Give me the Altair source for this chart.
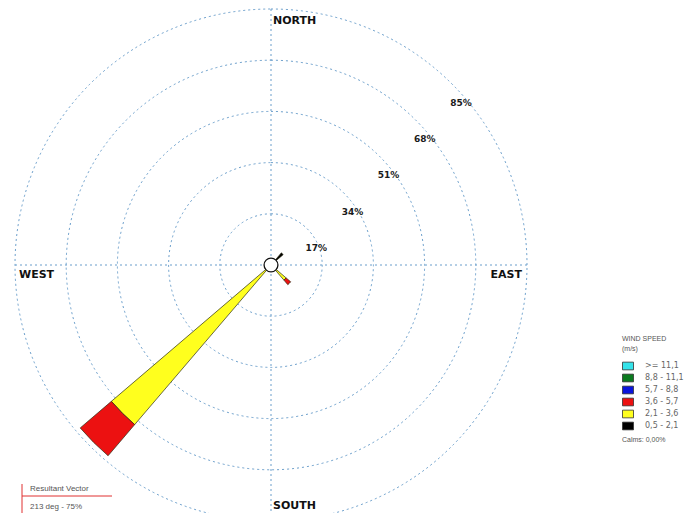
import math
import altair as alt
import pandas as pd

# ---------------- data ----------------
RINGS = [17, 34, 51, 68, 85]
RING_LABELS = ["17%", "34%", "51%", "68%", "85%"]

CLASSES = [">= 11,1", "8,8 - 11,1", "5,7 - 8,8", "3,6 - 5,7", "2,1 - 3,6", "0,5 - 2,1"]
COLORS = ["#35e3ea", "#0b7a1f", "#0a14dc", "#ec1111", "#ffff1e", "#000000"]

# petals: bearing (deg) and frequency (%) per speed class (inner -> outer)
DIRECTIONS = [45, 135, 225]
FREQ_05_21 = [5.3, 0.0, 0.0]
FREQ_21_36 = [0.0, 6.6, 69.7]
FREQ_36_57 = [0.0, 2.0, 13.6]

COMPASS = ["NORTH", "EAST", "SOUTH", "WEST"]
COMPASS_BEARING = [0, 90, 180, 270]

CALMS_TEXT = "Calms: 0,00%"
RESULTANT_TITLE = "Resultant Vector"
RESULTANT_TEXT = "213 deg - 75%"

# ---------------- layout ----------------
W, H = 689, 513
CX, CY = 271, 265          # pixel centre of the rose
RMAX_PX = 256               # pixel radius of outermost ring
RMAX = max(RINGS)
K = RMAX_PX / RMAX          # px per percent
HALF_W = 4.5                # half petal width (deg)
CALM_R = 2.3                # calm circle radius (%)

xs = alt.Scale(domain=[-CX / K, (W - CX) / K], zero=False, nice=False)
ys = alt.Scale(domain=[(CY - H) / K, CY / K], zero=False, nice=False)
ts = alt.Scale(domain=[0, 360], range=[0, 2 * math.pi])
rs = alt.Scale(type="linear", domain=[0, RMAX], range=[0, RMAX_PX], zero=True)

X0 = alt.X(datum=0, scale=xs, axis=None)
Y0 = alt.Y(datum=0, scale=ys, axis=None)

GRID = "#6a9ecb"

# rings
rings_df = pd.DataFrame({"ring": RINGS, "t0": 0, "t1": 360, "r0": 0})
rings = alt.Chart(rings_df).mark_arc(
    filled=False, stroke=GRID, strokeWidth=1, strokeDash=[2, 3]
).encode(
    x=X0, y=Y0,
    theta=alt.Theta("t0:Q", scale=ts, stack=None), theta2="t1:Q",
    radius=alt.Radius("ring:Q", scale=rs), radius2="r0:Q",
)

# cross lines
cross_df = pd.DataFrame({
    "x1": [-RMAX, 0], "x2": [RMAX, 0], "y1": [0, -RMAX], "y2": [0, RMAX]
})
cross = alt.Chart(cross_df).mark_rule(
    stroke=GRID, strokeWidth=1, strokeDash=[2, 3]
).encode(
    x=alt.X("x1:Q", scale=xs, axis=None), x2="x2:Q",
    y=alt.Y("y1:Q", scale=ys, axis=None), y2="y2:Q",
)

# petals
rows = []
stack_classes = [("0,5 - 2,1", FREQ_05_21), ("2,1 - 3,6", FREQ_21_36), ("3,6 - 5,7", FREQ_36_57)]
for i, d in enumerate(DIRECTIONS):
    cum = 0.0
    for cls, vals in stack_classes:
        v = vals[i]
        if v > 0:
            rows.append({"dir": d, "t0": d - HALF_W, "t1": d + HALF_W,
                         "r0": cum, "r1": cum + v, "cls": cls})
            cum += v
petal_df = pd.DataFrame(rows)
petals = alt.Chart(petal_df).mark_arc(stroke="#2b2b12", strokeWidth=0.7).encode(
    x=X0, y=Y0,
    theta=alt.Theta("t0:Q", scale=ts, stack=None), theta2="t1:Q",
    radius=alt.Radius("r1:Q", scale=rs), radius2="r0:Q",
    color=alt.Color(
        "cls:N",
        scale=alt.Scale(domain=CLASSES, range=COLORS),
        legend=alt.Legend(
            title=["WIND SPEED", "(m/s)"],
            orient="none", legendX=622, legendY=335,
            titleFont="Liberation Sans", titleFontSize=7, titleFontWeight="normal",
            titleColor="#555", titlePadding=8, titleLineHeight=10,
            labelFont="DejaVu Sans", labelFontSize=8, labelColor="#666",
            labelOffset=11, labelLimit=200,
            symbolType="M-1,-0.7H1V0.7H-1Z", symbolSize=121,
            symbolStrokeColor="#333", symbolStrokeWidth=0.8,
            rowPadding=0, padding=0,
        ),
    ),
)

# calm circle
calm_df = pd.DataFrame({"r": [CALM_R], "t0": [0], "t1": [360]})
calm = alt.Chart(calm_df).mark_arc(fill="white", stroke="#111", strokeWidth=1.3).encode(
    x=X0, y=Y0,
    theta=alt.Theta("t0:Q", scale=ts, stack=None), theta2="t1:Q",
    radius=alt.Radius("r:Q", scale=rs),
)

# ring labels (along 45 degrees)
rl_df = pd.DataFrame({
    "lab": RING_LABELS,
    "x": [r * math.sin(math.radians(45)) for r in RINGS],
    "y": [r * math.cos(math.radians(45)) for r in RINGS],
})
ring_labels = alt.Chart(rl_df).mark_text(
    font="DejaVu Sans", fontWeight="bold", fontSize=9, color="#1a1a1a",
    align="center", baseline="middle", dx=9, dy=19,
).encode(
    x=alt.X("x:Q", scale=xs, axis=None), y=alt.Y("y:Q", scale=ys, axis=None), text="lab:N"
)

# compass labels
comp_df = pd.DataFrame({
    "lab": COMPASS,
    "x": [RMAX * math.sin(math.radians(b)) for b in COMPASS_BEARING],
    "y": [RMAX * math.cos(math.radians(b)) for b in COMPASS_BEARING],
})
def comp_layer(name, align, dx, dy):
    return alt.Chart(comp_df[comp_df.lab == name]).mark_text(
        font="DejaVu Sans", fontWeight="bold", fontSize=11, color="#111",
        align=align, baseline="middle", dx=dx, dy=dy,
    ).encode(
        x=alt.X("x:Q", scale=xs, axis=None), y=alt.Y("y:Q", scale=ys, axis=None), text="lab:N"
    )

north = comp_layer("NORTH", "left", 2, 12)
south = comp_layer("SOUTH", "left", 2, -15)
west = comp_layer("WEST", "left", 4, 10)
east = comp_layer("EAST", "right", -5, 10)

# annotations
ann_df = pd.DataFrame({"t": [CALMS_TEXT]})
calms = alt.Chart(ann_df).mark_text(
    font="Liberation Sans", fontSize=7, color="#555", align="left", baseline="middle"
).encode(x=alt.value(622), y=alt.value(440), text="t:N")

res_df = pd.DataFrame({"t": [RESULTANT_TITLE, RESULTANT_TEXT]})
res_t1 = alt.Chart(res_df.iloc[[0]]).mark_text(
    font="Liberation Sans", fontSize=8, color="#555", align="left", baseline="middle"
).encode(x=alt.value(30), y=alt.value(489), text="t:N")
res_t2 = alt.Chart(res_df.iloc[[1]]).mark_text(
    font="Liberation Sans", fontSize=8, color="#555", align="left", baseline="middle"
).encode(x=alt.value(30), y=alt.value(507), text="t:N")
res_h = alt.Chart(ann_df).mark_rule(stroke="#e03030", strokeWidth=1).encode(
    x=alt.value(22), x2=alt.value(112), y=alt.value(496))
res_v = alt.Chart(ann_df).mark_rule(stroke="#e03030", strokeWidth=1).encode(
    x=alt.value(22), y=alt.value(484), y2=alt.value(513))

chart = alt.layer(
    rings, cross, petals, calm, ring_labels, north, south, west, east,
    calms, res_t1, res_t2, res_h, res_v,
).properties(
    width=W, height=H, padding=0, background="white",
    autosize=alt.AutoSizeParams(type="none"),
).configure_view(stroke=None)

chart.save("out.html", embed_options={"renderer": "svg", "actions": False})
